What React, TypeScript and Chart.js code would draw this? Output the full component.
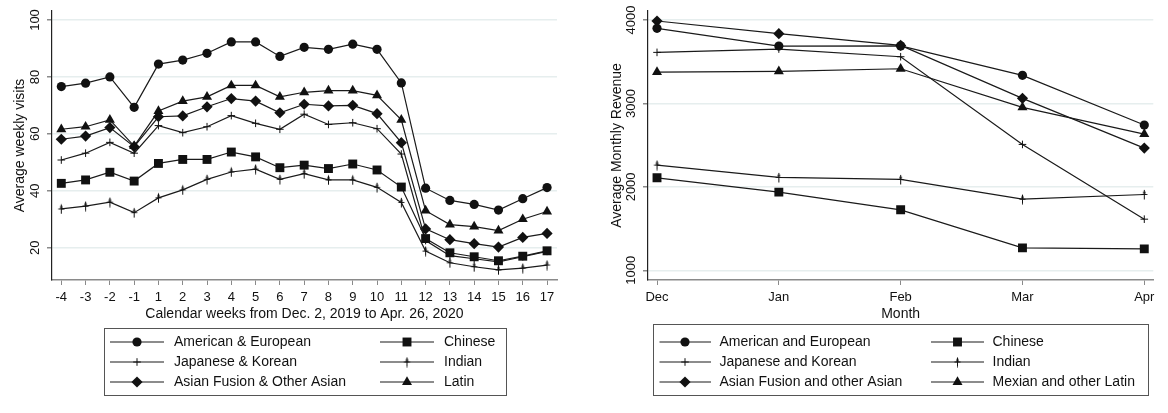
import React, { useEffect, useRef } from 'react';
import { Chart, registerables } from 'chart.js';

Chart.register(...registerables);

const FONT = '"Liberation Sans", Arial, Helvetica, sans-serif';
const INK = '#111111';

// ---------- Left chart data (weekly visits) ----------
const weekLabels = ['-4', '-3', '-2', '-1', '1', '2', '3', '4', '5', '6', '7', '8', '9', '10', '11', '12', '13', '14', '15', '16', '17'];
const visitTicks = [20, 40, 60, 80, 100];
const americanEuropeanVisits = [76.6, 77.8, 80.0, 69.3, 84.5, 85.9, 88.3, 92.3, 92.3, 87.2, 90.4, 89.7, 91.5, 89.7, 77.9, 40.9, 36.6, 35.2, 33.2, 37.2, 41.1];
const chineseVisits = [42.6, 43.8, 46.5, 43.4, 49.6, 51.0, 51.0, 53.6, 51.9, 48.1, 49.0, 47.8, 49.4, 47.3, 41.3, 23.2, 18.2, 16.8, 15.4, 17.0, 18.9];
const japaneseKoreanVisits = [50.8, 53.2, 57.0, 53.2, 62.9, 60.4, 62.5, 66.4, 63.7, 61.6, 66.9, 63.3, 63.9, 61.8, 52.9, 22.5, 17.2, 16.1, 15.0, 16.8, 18.7];
const indianVisits = [33.6, 34.6, 36.0, 32.3, 37.5, 40.3, 44.0, 46.6, 47.6, 44.0, 46.0, 43.8, 43.8, 41.2, 35.9, 18.8, 14.7, 13.3, 12.2, 12.8, 13.9];
const asianFusionVisits = [58.1, 59.2, 62.2, 55.5, 66.0, 66.3, 69.5, 72.4, 71.5, 67.4, 70.4, 69.8, 70.0, 67.1, 56.9, 26.6, 22.8, 21.4, 20.2, 23.6, 25.0];
const latinVisits = [61.6, 62.5, 64.9, 55.7, 68.0, 71.5, 73.0, 77.0, 77.0, 73.0, 74.6, 75.2, 75.2, 73.5, 64.9, 33.0, 28.1, 27.4, 26.0, 30.0, 32.7];
const visitLegendNames = ['American & European', 'Chinese', 'Japanese & Korean', 'Indian', 'Asian Fusion & Other Asian', 'Latin'];

// ---------- Right chart data (monthly revenue) ----------
const monthLabels = ['Dec', 'Jan', 'Feb', 'Mar', 'Apr'];
const revenueTicks = [1000, 2000, 3000, 4000];
const americanEuropeanRevenue = [3900, 3688, 3690, 3337, 2741];
const chineseRevenue = [2109, 1937, 1725, 1269, 1257];
const japaneseKoreanRevenue = [3612, 3652, 3560, 2509, 1613];
const indianRevenue = [2261, 2113, 2089, 1853, 1909];
const asianFusionRevenue = [3988, 3836, 3696, 3061, 2465];
const latinRevenue = [3376, 3384, 3416, 2953, 2633];
const revenueLegendNames = ['American and European', 'Chinese', 'Japanese and Korean', 'Indian', 'Asian Fusion and other Asian', 'Mexian and other Latin'];

type Kind = 'circle' | 'square' | 'plus' | 'dagger' | 'diamond' | 'triangle';
const kinds: Kind[] = ['circle', 'square', 'plus', 'dagger', 'diamond', 'triangle'];

let daggerCanvas: HTMLCanvasElement | null = null;
function getDagger(): HTMLCanvasElement {
  if (daggerCanvas) return daggerCanvas;
  const c = document.createElement('canvas');
  c.width = 9;
  c.height = 11;
  const g = c.getContext('2d')!;
  g.strokeStyle = INK;
  g.fillStyle = INK;
  g.lineWidth = 1;
  g.beginPath();
  g.moveTo(4.5, 1);
  g.lineTo(4.5, 10.5);
  g.stroke();
  g.beginPath();
  g.moveTo(1.5, 5.5);
  g.lineTo(7.5, 5.5);
  g.stroke();
  g.beginPath();
  g.moveTo(4.5, 0.5);
  g.lineTo(6, 4.5);
  g.lineTo(3, 4.5);
  g.closePath();
  g.fill();
  daggerCanvas = c;
  return c;
}

function pointProps(kind: Kind): any {
  switch (kind) {
    case 'circle':
      return { pointStyle: 'circle', pointRadius: 4.6 };
    case 'square':
      return { pointStyle: 'rect', pointRadius: 6.3 };
    case 'plus':
      return { pointStyle: 'cross', pointRadius: 3.8, pointBorderWidth: 1 };
    case 'dagger':
      return { pointStyle: getDagger(), pointRadius: 5 };
    case 'diamond':
      return { pointStyle: 'rectRot', pointRadius: 5.6 };
    case 'triangle':
      return { pointStyle: 'triangle', pointRadius: 5.8 };
  }
}

function drawMarker(ctx: CanvasRenderingContext2D, kind: Kind, x: number, y: number) {
  ctx.save();
  ctx.fillStyle = INK;
  ctx.strokeStyle = INK;
  ctx.lineWidth = 1;
  ctx.beginPath();
  if (kind === 'circle') {
    ctx.arc(x, y, 4.6, 0, Math.PI * 2);
    ctx.fill();
  } else if (kind === 'square') {
    const s = 6.3 * Math.SQRT1_2;
    ctx.rect(x - s, y - s, 2 * s, 2 * s);
    ctx.fill();
  } else if (kind === 'plus') {
    ctx.moveTo(x - 3.8, y);
    ctx.lineTo(x + 3.8, y);
    ctx.moveTo(x, y - 3.8);
    ctx.lineTo(x, y + 3.8);
    ctx.stroke();
  } else if (kind === 'dagger') {
    const c = getDagger();
    ctx.drawImage(c, x - c.width / 2, y - c.height / 2);
  } else if (kind === 'diamond') {
    const r = 5.6;
    ctx.moveTo(x, y - r);
    ctx.lineTo(x + r, y);
    ctx.lineTo(x, y + r);
    ctx.lineTo(x - r, y);
    ctx.closePath();
    ctx.fill();
  } else if (kind === 'triangle') {
    const r = 5.8;
    ctx.moveTo(x, y - r);
    ctx.lineTo(x + r * Math.sin(Math.PI / 3), y + r / 2);
    ctx.lineTo(x - r * Math.sin(Math.PI / 3), y + r / 2);
    ctx.closePath();
    ctx.fill();
  }
  ctx.restore();
}

function buildDatasets(series: number[][], names: string[]) {
  return series.map((vals, si) => ({
    label: names[si],
    data: vals.map((v, i) => ({ x: i, y: v })),
    borderColor: '#1a1a1a',
    borderWidth: 1.2,
    backgroundColor: INK,
    pointBackgroundColor: INK,
    pointBorderColor: INK,
    pointBorderWidth: 0,
    fill: false,
    tension: 0,
    ...pointProps(kinds[si]),
  }));
}

interface TextCfg {
  xLabels: string[];
  xLabelY: number;
  xTitle: string;
  xTitleY: number;
  yTitle: string;
  yTitleX: number;
  yTickX: number;
  legendNames: string[];
  box: { l: number; r: number; t: number; b: number };
  rows: number[];
  cols: { l1: number; l2: number; m: number; t: number }[];
}

function textPlugin(cfg: TextCfg) {
  return {
    id: 'stataText',
    afterDraw(chart: any) {
      const ctx: CanvasRenderingContext2D = chart.ctx;
      const xs = chart.scales.x;
      const ys = chart.scales.y;
      const area = chart.chartArea;
      ctx.save();
      ctx.fillStyle = INK;
      ctx.textBaseline = 'middle';
      ctx.textAlign = 'center';
      ctx.font = `13px ${FONT}`;
      cfg.xLabels.forEach((lab, i) => {
        ctx.fillText(lab, xs.getPixelForValue(i), cfg.xLabelY);
      });
      ys.ticks.forEach((t: any) => {
        const py = ys.getPixelForValue(t.value);
        ctx.save();
        ctx.translate(cfg.yTickX, py);
        ctx.rotate(-Math.PI / 2);
        ctx.fillText(String(t.value), 0, 0);
        ctx.restore();
      });
      ctx.font = `14px ${FONT}`;
      ctx.fillText(cfg.xTitle, (area.left + area.right) / 2, cfg.xTitleY);
      ctx.save();
      ctx.translate(cfg.yTitleX, (area.top + area.bottom) / 2);
      ctx.rotate(-Math.PI / 2);
      ctx.fillText(cfg.yTitle, 0, 0);
      ctx.restore();

      // legend box
      const b = cfg.box;
      ctx.strokeStyle = '#555';
      ctx.lineWidth = 1;
      ctx.strokeRect(b.l + 0.5, b.t + 0.5, b.r - b.l, b.b - b.t);
      ctx.textAlign = 'left';
      cfg.legendNames.forEach((name, i) => {
        const row = Math.floor(i / 2);
        const col = cfg.cols[i % 2];
        const y = cfg.rows[row];
        ctx.strokeStyle = '#1a1a1a';
        ctx.lineWidth = 1.2;
        ctx.beginPath();
        ctx.moveTo(col.l1, y);
        ctx.lineTo(col.l2, y);
        ctx.stroke();
        drawMarker(ctx, kinds[i], col.m, y);
        ctx.fillStyle = INK;
        ctx.fillText(name, col.t, y);
      });
      ctx.restore();
    },
  };
}

function makeChart(
  canvas: HTMLCanvasElement,
  series: number[][],
  names: string[],
  nCats: number,
  xMin: number,
  xMax: number,
  yMin: number,
  yMax: number,
  yTicks: number[],
  yAxisWidth: number,
  padRight: number,
  cfg: TextCfg
) {
  return new Chart(canvas, {
    type: 'line',
    data: { datasets: buildDatasets(series, names) as any },
    options: {
      responsive: false,
      animation: false,
      devicePixelRatio: 1,
      layout: { padding: { top: 11, right: padRight, left: 0, bottom: 0 } },
      plugins: { legend: { display: false }, tooltip: { enabled: false }, title: { display: false } },
      scales: {
        x: {
          type: 'linear',
          min: xMin,
          max: xMax,
          ticks: { display: false },
          afterBuildTicks: (s: any) => {
            s.ticks = Array.from({ length: nCats }, (_, i) => ({ value: i }));
          },
          afterFit: (s: any) => {
            s.height = 133;
          },
          grid: { drawOnChartArea: false, drawTicks: true, tickLength: 5, tickColor: '#8a8a8a', color: '#8a8a8a' },
          border: { display: true, color: '#8a8a8a', width: 1.5 },
        },
        y: {
          type: 'linear',
          min: yMin,
          max: yMax,
          ticks: { display: false },
          afterBuildTicks: (s: any) => {
            s.ticks = yTicks.map((v) => ({ value: v }));
          },
          afterFit: (s: any) => {
            s.width = yAxisWidth;
          },
          grid: { color: '#e6eeee', lineWidth: 1.5, drawTicks: true, tickLength: 5, tickColor: '#8a8a8a' },
          border: { display: true, color: '#222', width: 1.2 },
        },
      },
    } as any,
    plugins: [textPlugin(cfg)],
  });
}

export default function App() {
  const leftRef = useRef<HTMLCanvasElement>(null);
  const rightRef = useRef<HTMLCanvasElement>(null);

  useEffect(() => {
    const left = makeChart(
      leftRef.current!,
      [americanEuropeanVisits, chineseVisits, japaneseKoreanVisits, indianVisits, asianFusionVisits, latinVisits],
      visitLegendNames,
      weekLabels.length,
      -0.383,
      20.41,
      8.64,
      103.16,
      visitTicks,
      52,
      23,
      {
        xLabels: weekLabels,
        xLabelY: 297,
        xTitle: 'Calendar weeks from Dec. 2, 2019 to Apr. 26, 2020',
        xTitleY: 314,
        yTitle: 'Average weekly visits',
        yTitleX: 20,
        yTickX: 35,
        legendNames: visitLegendNames,
        box: { l: 104, r: 506, t: 328, b: 395 },
        rows: [342, 362, 382],
        cols: [
          { l1: 110, l2: 164, m: 137, t: 174 },
          { l1: 380, l2: 434, m: 407, t: 444 },
        ],
      }
    );
    const right = makeChart(
      rightRef.current!,
      [americanEuropeanRevenue, chineseRevenue, japaneseKoreanRevenue, indianRevenue, asianFusionRevenue, latinRevenue],
      revenueLegendNames,
      monthLabels.length,
      -0.074,
      4.074,
      884,
      4108,
      revenueTicks,
      68,
      14.7,
      {
        xLabels: monthLabels,
        xLabelY: 297,
        xTitle: 'Month',
        xTitleY: 314,
        yTitle: 'Average Monthly Revenue',
        yTitleX: 36.7,
        yTickX: 51.7,
        legendNames: revenueLegendNames,
        box: { l: 73, r: 568, t: 324, b: 395 },
        rows: [342, 362, 382],
        cols: [
          { l1: 79.5, l2: 131, m: 105, t: 139.5 },
          { l1: 351, l2: 404, m: 377.5, t: 412.5 },
        ],
      }
    );
    return () => {
      left.destroy();
      right.destroy();
    };
  }, []);

  return (
    <div style={{ position: 'absolute', left: 0, top: 0, width: 1168, height: 413, background: '#fff' }}>
      <canvas ref={leftRef} width={580} height={413} style={{ position: 'absolute', left: 0, top: 0, width: 580, height: 413 }} />
      <canvas ref={rightRef} width={588} height={413} style={{ position: 'absolute', left: 580, top: 0, width: 588, height: 413 }} />
    </div>
  );
}
